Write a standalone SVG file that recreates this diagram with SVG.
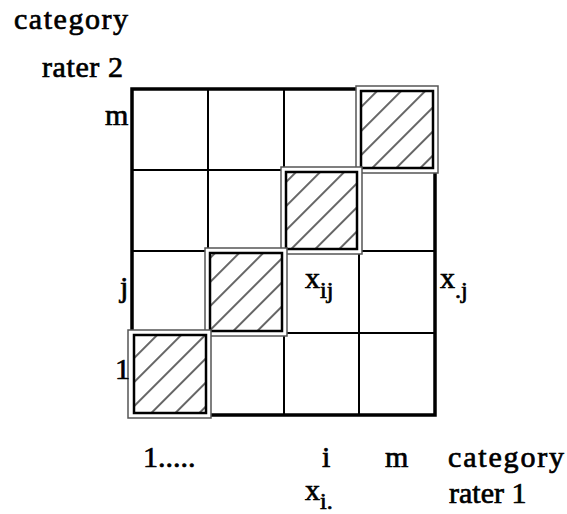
<svg xmlns="http://www.w3.org/2000/svg" width="567" height="514" viewBox="0 0 567 514">
<style>
  text { font-family: "Liberation Serif", "Times New Roman", serif; font-size: 30px; fill: #000; stroke: #000; stroke-width: 0.7; }
  .sub { font-size: 24px; }
  .grid { fill: none; stroke: #000; stroke-width: 2; }
  .outer { fill: none; stroke: #000; stroke-width: 3.5; }
  .frame { fill: #fff; stroke: #555; stroke-width: 1.5; }
  .inner { fill: url(#hatch); stroke: #000; stroke-width: 2.5; }
</style>
<defs>
  <pattern id="hatch" patternUnits="userSpaceOnUse" width="17" height="17" patternTransform="rotate(-45)">
    <line x1="0" y1="8" x2="17" y2="8" stroke="#000" stroke-width="1.2"/>
  </pattern>
</defs>
<rect width="567" height="514" fill="#fff"/>
<g id="grid">
  <line class="grid" x1="208" y1="89" x2="208" y2="415"/>
  <line class="grid" x1="284" y1="89" x2="284" y2="415"/>
  <line class="grid" x1="359" y1="89" x2="359" y2="415"/>
  <line class="grid" x1="132" y1="170" x2="435" y2="170"/>
  <line class="grid" x1="132" y1="251" x2="435" y2="251"/>
  <line class="grid" x1="132" y1="333" x2="435" y2="333"/>
  <rect class="outer" x="132" y="89" width="303" height="326"/>
</g>
<g id="cell-m-m">
  <rect class="frame" x="356" y="86" width="82" height="87"/>
  <rect class="inner" x="361" y="91" width="72" height="77"/>
</g>
<g id="cell-diag-2">
  <rect class="frame" x="281" y="167" width="81" height="87"/>
  <rect class="inner" x="286" y="172" width="71" height="77"/>
</g>
<g id="cell-j-j">
  <rect class="frame" x="205" y="248" width="82" height="88"/>
  <rect class="inner" x="210" y="253" width="72" height="78"/>
</g>
<g id="cell-1-1">
  <rect class="frame" x="128" y="330" width="83" height="88"/>
  <rect class="inner" x="134" y="335" width="72" height="78"/>
</g>
<g id="labels">
  <text x="14" y="29" textLength="114" lengthAdjust="spacing">category</text>
  <text x="42" y="77" textLength="81" lengthAdjust="spacing">rater 2</text>
  <text x="105" y="125">m</text>
  <text x="120" y="297">j</text>
  <text x="115" y="379">1</text>
  <text x="305" y="288">x<tspan class="sub" dy="10">ij</tspan></text>
  <text x="440" y="288">x<tspan class="sub" dy="10">.j</tspan></text>
  <text x="143" y="467">1.....</text>
  <text x="322" y="467">i</text>
  <text x="385" y="467">m</text>
  <text x="448" y="467" textLength="116" lengthAdjust="spacing">category</text>
  <text x="305" y="500">x<tspan class="sub" dy="9">i.</tspan></text>
  <text x="449" y="503">rater 1</text>
</g>
</svg>
